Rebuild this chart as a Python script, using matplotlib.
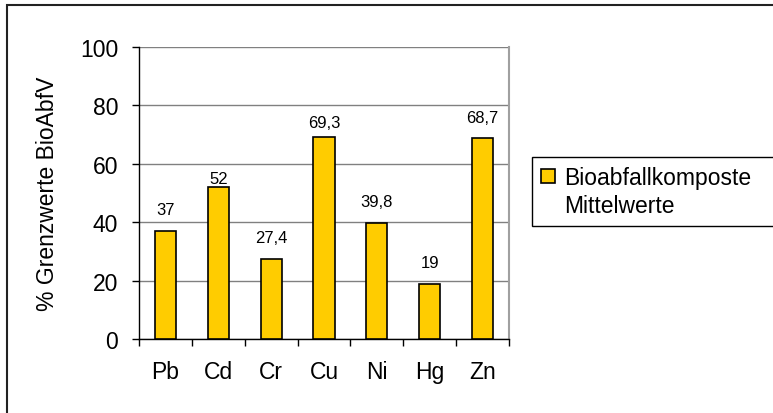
import matplotlib
matplotlib.use("Agg")
import matplotlib.pyplot as plt
from matplotlib.patches import Patch, Rectangle
import numpy as np

# data
elements = ["Pb", "Cd", "Cr", "Cu", "Ni", "Hg", "Zn"]
mean_values = [37, 52, 27.4, 69.3, 39.8, 19, 68.7]
value_labels = ["37", "52", "27,4", "69,3", "39,8", "19", "68,7"]
series_name = ["Bioabfallkomposte", "Mittelwerte"]
y_ticks = [0, 20, 40, 60, 80, 100]

# label offsets above the bar top (points), Excel placed a few of them lower
label_offsets = [10, 1.0, 10, 4.5, 10, 10, 10]

plt.rcParams["font.family"] = ["Liberation Sans", "DejaVu Sans"]
FS = 16.5
W, H = 773, 414
fig = plt.figure(figsize=(W / 100, H / 100), dpi=100)

# outer chart border, cut off at the right and bottom like the source image
fig.patches.append(Rectangle((7 / W, -0.1), 1.2, 1 - 6 / H + 0.1,
                             transform=fig.transFigure, fill=False,
                             edgecolor="#222222", linewidth=1.5))

ax = fig.add_axes([139 / W, 1 - 340 / H, (509 - 139) / W, (340 - 48) / H])

x = np.arange(len(elements))
bars = ax.bar(x, mean_values, width=0.4, color="#FFCC00", edgecolor="black",
              linewidth=1.2, zorder=3)

for rect, lab, off in zip(bars, value_labels, label_offsets):
    ax.annotate(lab, (rect.get_x() + rect.get_width() / 2, rect.get_height()),
                xytext=(0, off), textcoords="offset points",
                ha="center", va="bottom", fontsize=12)

ax.set_xlim(-0.5, len(elements) - 0.5)
ax.set_ylim(0, 100)
ax.set_yticks(y_ticks)
ax.yaxis.grid(True, color="#808080", linewidth=1.0, zorder=0)
ax.set_axisbelow(True)

ax.set_xticks(x)
ax.set_xticklabels(elements)
ax.set_xticks(np.arange(-0.5, len(elements)), minor=True)
ax.tick_params(axis="x", which="major", length=0, pad=15, labelsize=FS)
ax.tick_params(axis="x", which="minor", length=5, width=1, direction="out")
ax.tick_params(axis="y", length=5, width=1, direction="out", pad=10,
               labelsize=FS)

ax.spines["top"].set_visible(False)
ax.spines["right"].set_color("#A0A0A0")
ax.spines["right"].set_linewidth(1.5)
for s in ("left", "bottom"):
    ax.spines[s].set_color("black")
    ax.spines[s].set_linewidth(1.0)

ax.set_ylabel("% Grenzwerte BioAbfV", fontsize=FS)
ax.yaxis.set_label_coords(-0.215, 0.5)

handles = [Patch(facecolor="#FFCC00", edgecolor="black", linewidth=1.2),
           Patch(facecolor="none", edgecolor="none")]
leg = fig.legend(handles, series_name, loc="upper left", mode="expand",
                 bbox_to_anchor=(531.7 / W, 0.2, 0.4, 1 - 158 / H - 0.2),
                 bbox_transform=fig.transFigure, borderaxespad=0,
                 fontsize=FS, fancybox=False, framealpha=1,
                 handlelength=0.6, handleheight=0.6, handletextpad=0.4,
                 borderpad=0.4, labelspacing=0.2)
leg.get_frame().set_edgecolor("black")
leg.get_frame().set_linewidth(1.0)

fig.savefig("out.png", dpi=100)
